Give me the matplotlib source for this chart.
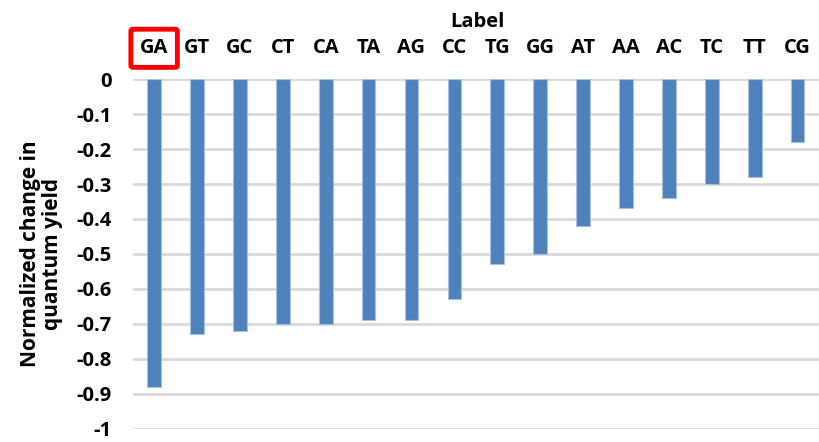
import matplotlib.pyplot as plt

labels = ['GA', 'GT', 'GC', 'CT', 'CA', 'TA', 'AG', 'CC', 'TG', 'GG',
          'AT', 'AA', 'AC', 'TC', 'TT', 'CG']
values = [-0.88, -0.73, -0.72, -0.70, -0.70, -0.69, -0.69, -0.63, -0.53, -0.50,
          -0.42, -0.37, -0.34, -0.30, -0.28, -0.18]
yticks = [0, -0.1, -0.2, -0.3, -0.4, -0.5, -0.6, -0.7, -0.8, -0.9, -1]
ytick_labels = ['0', '-0.1', '-0.2', '-0.3', '-0.4', '-0.5', '-0.6', '-0.7',
                '-0.8', '-0.9', '-1']

plt.rcParams['font.family'] = ['Open Sans', 'DejaVu Sans']
plt.rcParams['font.weight'] = 'bold'

fig = plt.figure(figsize=(8.19, 4.42), dpi=100)
ax = fig.add_axes([0.162, 0.03, 0.838, 0.791])

x = range(len(labels))
ax.bar(x, values, width=0.32, color='#4f81bd', edgecolor='#a9c0e0',
       linewidth=0.8, zorder=3)

ax.set_xlim(-0.5, len(labels) - 0.5)
ax.set_ylim(-1, 0)
ax.set_yticks(yticks)
ax.set_yticklabels(ytick_labels, fontsize=14.5, fontweight='bold')
ax.yaxis.grid(True, color='#d9d9d9', linewidth=2, zorder=0)

ax.xaxis.tick_top()
ax.set_xticks(list(x))
ax.set_xticklabels(labels, fontsize=14.5, fontweight='bold')
ax.tick_params(axis='both', length=0)
ax.tick_params(axis='x', pad=15)
ax.tick_params(axis='y', pad=15)

for s in ax.spines.values():
    s.set_visible(False)

ax.xaxis.set_label_position('top')
ax.set_xlabel('Label', fontsize=14.5, fontweight='bold')
ax.xaxis.set_label_coords(0.503, 1.15)
ax.set_ylabel('Normalized change in\nquantum yield', fontsize=15,
              fontweight='bold', linespacing=1.05)
ax.yaxis.set_label_coords(-0.102, 0.5)

# red highlight box round the first label
ax.get_xticklabels()[0].set_bbox(dict(facecolor='none', edgecolor='#ff0000',
                                      linewidth=3.5,
                                      boxstyle='round,pad=0.45,rounding_size=0.1'))

fig.savefig('out.png', dpi=100)
